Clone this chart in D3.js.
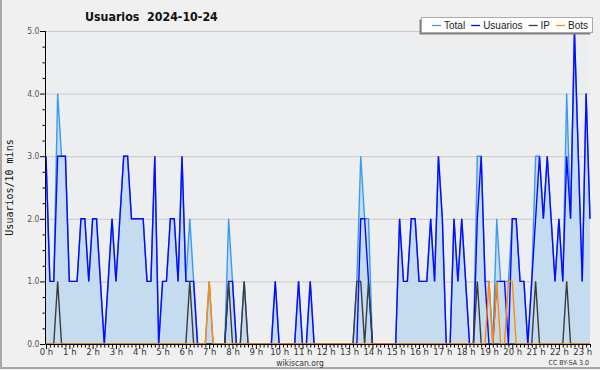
<!DOCTYPE html>
<html>
<head>
<meta charset="utf-8">
<script src="https://cdn.jsdelivr.net/npm/d3@7"></script>
<style>
  html, body { margin: 0; padding: 0; background: #f0f0f0; }
  svg { display: block; }
</style>
</head>
<body>
<svg id="chart" width="600" height="370"></svg>
<script>
// 10-minute slots from 00:00 to 23:20
const totalValues = [
  3, 1, 1, 4, 3, 3, 1, 1, 1, 2, 2, 1, 2, 2, 1, 0, 1, 2, 1, 2,
  3, 3, 2, 2, 2, 2, 1, 1, 3, 0, 1, 1, 2, 2, 1, 3, 1, 2, 1, 0,
  0, 0, 1, 0, 0, 0, 0, 2, 1, 0, 0, 1, 0, 0, 0, 0, 0, 0, 0, 1,
  0, 0, 0, 0, 0, 1, 0, 0, 1, 0, 0, 0, 0, 0, 0, 0, 0, 0, 0, 0,
  1, 3, 2, 2, 0, 0, 0, 0, 0, 0, 0, 2, 1, 1, 2, 2, 1, 1, 1, 2,
  1, 3, 2, 0, 0, 2, 1, 2, 1, 0, 0, 3, 3, 1, 1, 0, 2, 1, 1, 1,
  2, 2, 1, 1, 0, 1, 3, 3, 2, 3, 2, 1, 2, 1, 4, 2, 5, 3, 1, 4,
  2
];
const usuariosValues = [
  3, 1, 1, 3, 3, 3, 1, 1, 1, 2, 2, 1, 2, 2, 1, 0, 1, 2, 1, 2,
  3, 3, 2, 2, 2, 2, 1, 1, 3, 0, 1, 1, 2, 2, 1, 3, 1, 1, 1, 0,
  0, 0, 0, 0, 0, 0, 0, 1, 1, 0, 0, 0, 0, 0, 0, 0, 0, 0, 0, 1,
  0, 0, 0, 0, 0, 1, 0, 0, 1, 0, 0, 0, 0, 0, 0, 0, 0, 0, 0, 0,
  0, 2, 2, 1, 0, 0, 0, 0, 0, 0, 0, 2, 1, 1, 2, 2, 1, 1, 1, 2,
  1, 3, 2, 0, 0, 2, 1, 2, 1, 0, 0, 2, 3, 1, 0, 0, 1, 1, 1, 0,
  2, 2, 1, 1, 0, 1, 2, 3, 2, 3, 2, 1, 2, 1, 3, 2, 5, 3, 1, 4,
  2
];
const ipValues = [
  0, 0, 0, 1, 0, 0, 0, 0, 0, 0, 0, 0, 0, 0, 0, 0, 0, 0, 0, 0,
  0, 0, 0, 0, 0, 0, 0, 0, 0, 0, 0, 0, 0, 0, 0, 0, 0, 1, 0, 0,
  0, 0, 0, 0, 0, 0, 0, 1, 0, 0, 0, 1, 0, 0, 0, 0, 0, 0, 0, 0,
  0, 0, 0, 0, 0, 0, 0, 0, 0, 0, 0, 0, 0, 0, 0, 0, 0, 0, 0, 0,
  1, 1, 0, 1, 0, 0, 0, 0, 0, 0, 0, 0, 0, 0, 0, 0, 0, 0, 0, 0,
  0, 0, 0, 0, 0, 0, 0, 0, 0, 0, 0, 1, 0, 0, 0, 0, 0, 0, 0, 0,
  0, 0, 0, 0, 0, 0, 1, 0, 0, 0, 0, 0, 0, 0, 1, 0, 0, 0, 0, 0,
  0
];
const botsValues = [
  0, 0, 0, 0, 0, 0, 0, 0, 0, 0, 0, 0, 0, 0, 0, 0, 0, 0, 0, 0,
  0, 0, 0, 0, 0, 0, 0, 0, 0, 0, 0, 0, 0, 0, 0, 0, 0, 0, 0, 0,
  0, 0, 1, 0, 0, 0, 0, 0, 0, 0, 0, 0, 0, 0, 0, 0, 0, 0, 0, 0,
  0, 0, 0, 0, 0, 0, 0, 0, 0, 0, 0, 0, 0, 0, 0, 0, 0, 0, 0, 0,
  0, 0, 0, 0, 0, 0, 0, 0, 0, 0, 0, 0, 0, 0, 0, 0, 0, 0, 0, 0,
  0, 0, 0, 0, 0, 0, 0, 0, 0, 0, 0, 0, 0, 0, 1, 0, 1, 0, 0, 1,
  1, 0, 0, 0, 0, 0, 0, 0, 0, 0, 0, 0, 0, 0, 0, 0, 0, 0, 0, 0,
  0
];
const hourLabels = d3.range(0, 24).map((h) => `${h} h`);
const yTickValues = [0, 1, 2, 3, 4, 5];
const legendItems = ["Total", "Usuarios", "IP", "Bots"];

const colors = {
  Total: "#3a9bf0",
  Usuarios: "#0a0aff",
  IP: "#3c3c3c",
  Bots: "#ff8c00",
};

const svg = d3.select("#chart");
const width = 600;
const height = 370;
const margin = { left: 46, right: 10, top: 31, bottom: 26 };

// outer frame (left + bottom only)
svg.append("rect").attr("width", width).attr("height", height).attr("fill", "#f0f0f0");
svg.append("path")
  .attr("d", `M1,0 V${height - 2} H${width}`)
  .attr("fill", "none")
  .attr("stroke", "#a8a8a8")
  .attr("stroke-width", 2);

const x = d3.scaleLinear().domain([0, totalValues.length - 1]).range([margin.left, width - margin.right]);
const y = d3.scaleLinear().domain([0, 5]).range([height - margin.bottom, margin.top]);
const slotsPerHour = 6;

svg.append("rect")
  .attr("x", margin.left)
  .attr("y", margin.top)
  .attr("width", width - margin.right - margin.left)
  .attr("height", y(0) - margin.top)
  .attr("fill", "#edeef0");

// grid
svg.append("g")
  .selectAll("line")
  .data(yTickValues.filter((v) => v > 0))
  .join("line")
  .attr("x1", margin.left)
  .attr("x2", width - margin.right)
  .attr("y1", (d) => y(d) + 0.5)
  .attr("y2", (d) => y(d) + 0.5)
  .attr("stroke", "#cacaca");

// area under total
const area = d3.area()
  .x((d, i) => x(i))
  .y0(y(0))
  .y1((d) => y(d));
svg.append("path")
  .datum(totalValues)
  .attr("d", area)
  .attr("fill", "#c5dcf0");

const line = d3.line().x((d, i) => x(i)).y((d) => y(d));
const seriesList = [
  ["Total", totalValues],
  ["Usuarios", usuariosValues],
  ["IP", ipValues],
  ["Bots", botsValues],
];
seriesList.forEach(([name, values]) => {
  svg.append("path")
    .datum(values)
    .attr("d", line)
    .attr("fill", "none")
    .attr("stroke", colors[name])
    .attr("stroke-width", 1.4)
    .attr("stroke-linejoin", "miter");
});

// y axis
const yAxis = d3.axisLeft(y)
  .tickValues(d3.range(0, 5.01, 0.25))
  .tickSize(3)
  .tickFormat(() => "");
const yAxisG = svg.append("g").attr("transform", `translate(${margin.left},0)`).call(yAxis);
yAxisG.select(".domain").attr("stroke", "#000").attr("d", `M-0.5,${margin.top}V${y(0)}`);
yAxisG.selectAll(".tick line").attr("stroke", "#000").attr("x1", -0.5).attr("x2", (d) => (Number.isInteger(d) ? -6 : -3.5));
yAxisG.selectAll(".tick")
  .filter((d) => Number.isInteger(d))
  .append("text")
  .attr("x", -6.5)
  .attr("dy", "0.3em")
  .attr("text-anchor", "end")
  .attr("fill", "#555")
  .style("font", "8.5px 'DejaVu Sans Condensed', 'DejaVu Sans', sans-serif")
  .text((d) => d.toFixed(1));

// x axis
const xAxis = d3.axisBottom(x)
  .tickValues(d3.range(0, totalValues.length))
  .tickSize(3)
  .tickFormat(() => "");
const xAxisG = svg.append("g").attr("transform", `translate(0,${y(0)})`).call(xAxis);
xAxisG.select(".domain").attr("stroke", "#000").attr("d", `M${margin.left},0.5H${width - margin.right}`);
xAxisG.selectAll(".tick line").attr("stroke", "#000").attr("y2", (d) => (d % slotsPerHour === 0 ? 5 : 3.5));
xAxisG.selectAll(".tick")
  .filter((d) => d % slotsPerHour === 0)
  .append("text")
  .attr("y", 10.5)
  .attr("text-anchor", "middle")
  .attr("fill", "#333")
  .style("font", "9.5px 'DejaVu Sans Condensed', 'DejaVu Sans', sans-serif")
  .text((d) => hourLabels[d / slotsPerHour]);

// titles
svg.append("text")
  .attr("x", 85)
  .attr("y", 21)
  .attr("fill", "#111")
  .style("font", "bold 12.3px 'DejaVu Sans Condensed', 'DejaVu Sans', sans-serif")
  .style("white-space", "pre")
  .text("Usuarios  2024-10-24");

svg.append("text")
  .attr("transform", `translate(13,${(margin.top + y(0)) / 2}) rotate(-90)`)
  .attr("text-anchor", "middle")
  .attr("fill", "#111")
  .style("font", "10px 'DejaVu Sans Mono', monospace")
  .text("Usuarios/10 mins");

svg.append("text")
  .attr("x", 300)
  .attr("y", 365.5)
  .attr("text-anchor", "middle")
  .attr("fill", "#333")
  .style("font", "8.5px 'DejaVu Sans Condensed', 'DejaVu Sans', sans-serif")
  .text("wikiscan.org");

svg.append("text")
  .attr("x", 589)
  .attr("y", 365)
  .attr("text-anchor", "end")
  .attr("fill", "#333")
  .style("font", "7px 'DejaVu Sans Condensed', 'DejaVu Sans', sans-serif")
  .text("CC BY-SA  3.0");

// legend
const legend = svg.append("g");
legend.append("rect").attr("x", 419.5).attr("y", 19.5).attr("width", 171).attr("height", 15).attr("fill", "#808080");
legend.append("rect")
  .attr("x", 421.5).attr("y", 17.5).attr("width", 171).attr("height", 15)
  .attr("fill", "#fff").attr("stroke", "#aaa");
let cursor = 432;
legendItems.forEach((name) => {
  legend.append("line")
    .attr("x1", cursor).attr("x2", cursor + 9)
    .attr("y1", 25.5).attr("y2", 25.5)
    .attr("stroke", colors[name]).attr("stroke-width", 1.3);
  const t = legend.append("text")
    .attr("x", cursor + 12)
    .attr("y", 29)
    .attr("fill", "#222")
    .style("font", "10px 'Liberation Sans', Arial, sans-serif")
    .text(name);
  cursor += 12 + t.node().getComputedTextLength() + 6;
});
</script>
</body>
</html>
